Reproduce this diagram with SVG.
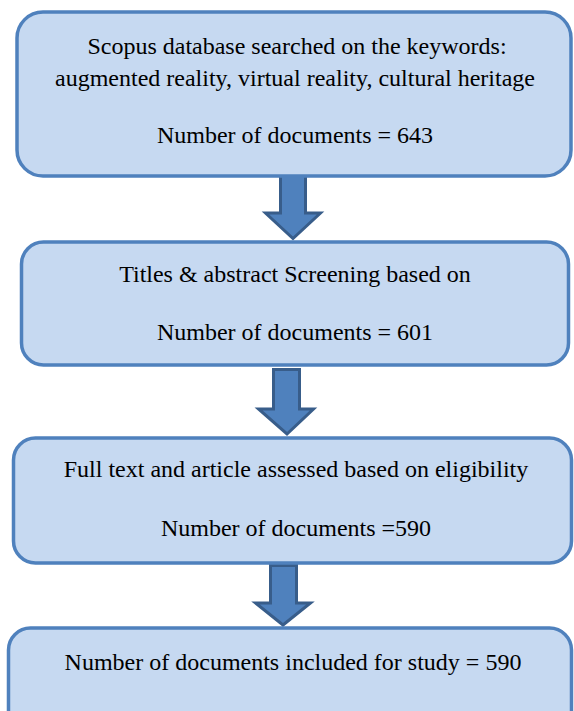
<svg xmlns="http://www.w3.org/2000/svg" width="574" height="711" viewBox="0 0 574 711">
<style>
.box{fill:#C6D9F1;stroke:#4F81BD;stroke-width:3.5}
.arr{fill:#4F81BD;stroke:#385D8A;stroke-width:3;stroke-linejoin:miter}
text{font-family:"Liberation Serif","Times New Roman",serif;font-size:24px;fill:#000;text-anchor:middle}
</style>
<rect width="574" height="711" fill="#fff"/>
<g id="connectors">
<polygon class="arr" points="280.5,174.5 305.5,174.5 305.5,213 320.5,213 293,238.5 265.5,213 280.5,213"/>
<polygon class="arr" points="273.5,369.5 299.5,369.5 299.5,409 313.5,409 287,434 258.5,409 273.5,409"/>
<polygon class="arr" points="270.5,565.5 296.5,565.5 296.5,603 310.5,603 283,625 255.5,603 270.5,603"/>
</g>
<g id="n1">
<rect class="box" x="17" y="12" width="554" height="164" rx="26"/>
<text x="297" y="54">Scopus database searched on the keywords:</text>
<text x="295" y="86">augmented reality, virtual reality, cultural heritage</text>
<text x="295" y="143">Number of documents = 643</text>
</g>
<g id="n2">
<rect class="box" x="21.5" y="242" width="547" height="123" rx="22"/>
<text x="295" y="282">Titles &amp; abstract Screening based on</text>
<text x="295" y="340">Number of documents = 601</text>
</g>
<g id="n3">
<rect class="box" x="13.5" y="438" width="558" height="125" rx="22"/>
<text x="296" y="477">Full text and article assessed based on eligibility</text>
<text x="296" y="536">Number of documents =590</text>
</g>
<g id="n4">
<rect class="box" x="8.5" y="628" width="563" height="120" rx="22"/>
<text x="293" y="670">Number of documents included for study = 590</text>
</g>
</svg>
